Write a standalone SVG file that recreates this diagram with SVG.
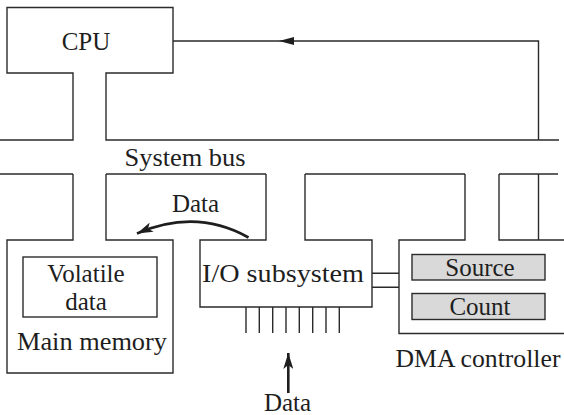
<svg xmlns="http://www.w3.org/2000/svg" width="564" height="415" viewBox="0 0 564 415">
<style>
.ln{fill:none;stroke:#2b2b2b;stroke-width:1.4;stroke-linejoin:miter}
.reg{fill:#d9d9d9;stroke:#2b2b2b;stroke-width:1.4}
.t{font-family:"Liberation Serif","Times New Roman",serif;font-size:25px;fill:#1e1e1e;text-anchor:middle}
.arr{fill:none;stroke:#1e1e1e;stroke-width:2.6}
</style>
<defs>
<marker id="ah" viewBox="0 0 10 10" refX="9" refY="5" markerWidth="6" markerHeight="5" markerUnits="userSpaceOnUse" orient="auto" >
<path d="M0,0 L10,5 L0,10 Z" fill="#1e1e1e"/>
</marker>
<marker id="ahL" viewBox="0 0 16 10" refX="16" refY="5" markerWidth="16" markerHeight="10" markerUnits="userSpaceOnUse" orient="auto">
<path d="M0,0 L16,5 L0,10 L4,5 Z" fill="#1e1e1e"/>
</marker>
</defs>
<rect width="564" height="415" fill="#ffffff"/>

<g id="cpu">
<path class="ln" d="M0,140 H73 V73 H7 V7.5 H173 V73 H106 V140 H559"/>
<text class="t" x="86" y="50">CPU</text>
</g>

<g id="system-bus">
<path class="ln" d="M0,174 H73"/>
<path class="ln" d="M106,174 H266"/>
<path class="ln" d="M305,174 H465"/>
<path class="ln" d="M499,174 H558"/>
<text class="t" x="185" y="165.5" textLength="121" lengthAdjust="spacingAndGlyphs">System bus</text>
</g>

<g id="main-memory">
<path class="ln" d="M73,174 V240 H7 V373 H173 V240 H106 V174"/>
<text class="t" x="92" y="350" textLength="150" lengthAdjust="spacingAndGlyphs">Main memory</text>
</g>

<g id="volatile-data">
<rect class="ln" x="23" y="257" width="134" height="60"/>
<text class="t" x="86" y="281.5">Volatile</text>
<text class="t" x="86" y="310">data</text>
</g>

<g id="io-subsystem">
<path class="ln" d="M266,174 V240 H200 V307 H372 V240 H305 V174"/>
<text class="t" x="283" y="282" textLength="162" lengthAdjust="spacingAndGlyphs">I/O subsystem</text>
</g>

<g id="dma-controller">
<path class="ln" d="M465,174 V240 H399 V333.5 H564"/>
<path class="ln" d="M564,240 H499 V174"/>
<path class="ln" d="M538.5,174 V240"/>
<text class="t" x="478" y="366.5" textLength="165" lengthAdjust="spacingAndGlyphs">DMA controller</text>
</g>

<g id="source">
<rect class="reg" x="412" y="254.5" width="133" height="25.5"/>
<text class="t" x="480" y="276">Source</text>
</g>

<g id="count">
<rect class="reg" x="412" y="293.5" width="133" height="26"/>
<text class="t" x="480" y="315">Count</text>
</g>

<g id="connectors">
<path class="ln" d="M173,41 H538.5 V140"/>
<path d="M279,41 L294,37 L294,45 Z" fill="#1e1e1e"/>
<path class="ln" d="M372,273.3 H399 M372,287.3 H399"/>
<path class="ln" d="M246,307 V333 M259.3,307 V333 M272.7,307 V333 M286,307 V333 M299.3,307 V333 M312.7,307 V333 M326,307 V333 M339.3,307 V333"/>
<path class="arr" d="M248.5,237.5 Q196,208 137,233.5" marker-end="url(#ahL)"/>
<path class="arr" d="M288.3,393 V353" marker-end="url(#ahL)"/>
<text class="t" x="195.5" y="212">Data</text>
<text class="t" x="287.5" y="411">Data</text>
</g>
</svg>
